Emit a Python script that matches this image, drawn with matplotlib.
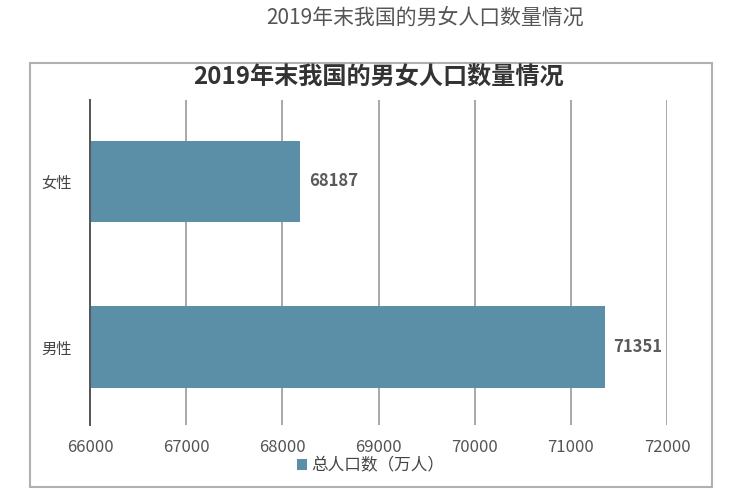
import matplotlib.pyplot as plt
from matplotlib.patches import Rectangle

plt.rcParams['font.family'] = ['Noto Sans CJK SC', 'DejaVu Sans']

# 数据
categorias = ["男性", "女性"]
poblacion = [71351, 68187]
serie = "总人口数（万人）"
titulo = "2019年末我国的男女人口数量情况"
ticks_x = [66000, 67000, 68000, 69000, 70000, 71000, 72000]

fig = plt.figure(figsize=(7.41, 5), dpi=100)
ax = fig.add_axes([0.1215, 0.15, 0.7787, 0.65])

# 外框
fig.patches.append(Rectangle((30 / 741, 1 - 487 / 500), 682 / 741, 424 / 500,
                             transform=fig.transFigure, fill=False,
                             edgecolor="#b0b0b0", linewidth=1.5))

# 标题
fig.text(425 / 741, 1 - 18 / 500, titulo, ha="center", va="center",
         fontsize=15, color="#555555", fontweight="light")
fig.text(378 / 741, 1 - 78 / 500, titulo, ha="center", va="center",
         fontsize=17.4, fontweight="bold", color="#333333")

ypos = list(range(len(categorias)))
bars = ax.barh(ypos, poblacion, height=0.49, left=0,
               color="#5b8fa8", label=serie, zorder=3)

for y, v in zip(ypos, poblacion):
    ax.text(v + 90, y, str(v), va="center", ha="left",
            fontsize=12, color="#5a5a5a", fontweight="bold")

ax.set_xlim(66000, 72000)
ax.set_ylim(-0.47, 1.49)
ax.set_xticks(ticks_x)
ax.set_xticklabels([str(t) for t in ticks_x], fontsize=12, color="#555555")
ax.set_yticks(ypos)
ax.set_yticklabels(categorias, fontsize=11, color="#444444")
ax.tick_params(length=0, axis="x", pad=10)
ax.tick_params(length=0, axis="y", pad=13)

ax.grid(axis="x", color="#a8a8a8", linewidth=1.4, zorder=0)
for s in ["top", "right", "bottom"]:
    ax.spines[s].set_visible(False)
ax.spines["left"].set_color("#555555")
ax.spines["left"].set_linewidth(1.4)
ax.spines["left"].set_zorder(4)

fig.legend(handles=[bars], labels=[serie], loc="center",
           bbox_to_anchor=(0.5, 1 - 466 / 500), frameon=False,
           fontsize=12, handlelength=0.6, handleheight=0.6,
           handletextpad=0.3, labelcolor="#444444")

fig.savefig("out.png", dpi=100)
